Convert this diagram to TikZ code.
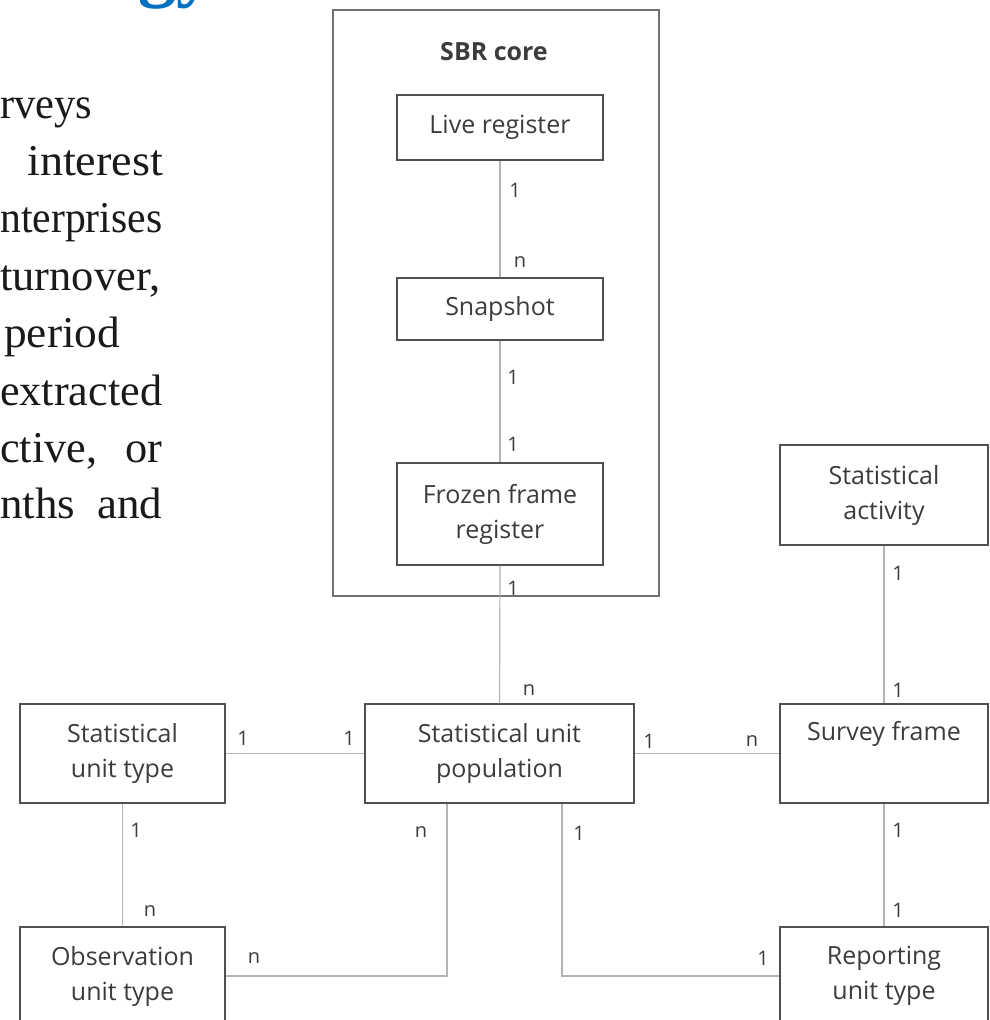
\documentclass[tikz,border=0pt]{standalone}
\usepackage{fontspec}
\setmainfont{Liberation Serif}
\newfontfamily\boxfont{Open Sans}
\definecolor{boxline}{HTML}{505050}
\definecolor{sbrline}{HTML}{707070}
\definecolor{connc}{HTML}{B4B4B4}
\definecolor{boxtext}{HTML}{3C3C3C}
\definecolor{titleblue}{HTML}{0070C0}
\definecolor{bodytext}{HTML}{1A1A1A}
\begin{document}
\begin{tikzpicture}[x=1pt,y=-1pt,
  box/.style={draw=boxline, line width=1.4pt, inner sep=0pt, align=center,
    font=\boxfont\fontsize{25}{35}\selectfont, text=boxtext},
  conn/.style={draw=connc, line width=1.2pt},
  lbl/.style={font=\boxfont\fontsize{20}{20}\selectfont, text=boxtext, inner sep=0pt},
  txt/.style={font=\fontsize{44}{44}\selectfont, text=bodytext, inner sep=0pt}]
\useasboundingbox (0,0) rectangle (989,1020);
\fill[white] (0,0) rectangle (989,1020);
\clip (0,0) rectangle (989,1020);

% cut-off title and body text
\node[anchor=base west, font=\fontsize{76}{76}\selectfont\bfseries, text=titleblue, inner sep=0pt] (ttl) at (138,-8) {gy};
\node[txt, anchor=base west] (l1) at (0,118) {\resizebox{92pt}{\height}{rveys}};
\node[txt, anchor=base west] (l2) at (27,175) {\resizebox{136pt}{\height}{interest}};
\node[txt, anchor=base west] (l3) at (0,232) {\resizebox{162pt}{\height}{nterprises}};
\node[txt, anchor=base west] (l4) at (0,290) {\resizebox{160pt}{\height}{turnover,}};
\node[txt, anchor=base west] (l5) at (4,347) {\resizebox{116pt}{\height}{period}};
\node[txt, anchor=base west] (l6) at (0,405) {\resizebox{162pt}{\height}{extracted}};
\node[txt, anchor=base west] (l7a) at (0,462) {\resizebox{97pt}{\height}{ctive,}};
\node[txt, anchor=base west] (l7b) at (125,462) {\resizebox{37pt}{\height}{or}};
\node[txt, anchor=base west] (l8a) at (0,518) {\resizebox{75pt}{\height}{nths}};
\node[txt, anchor=base west] (l8b) at (97,518) {\resizebox{65pt}{\height}{and}};

% SBR core container
\node[draw=sbrline, line width=1.5pt, minimum width=326pt, minimum height=586pt, inner sep=0pt] (core) at (496,303) {};
\node[font=\boxfont\bfseries\fontsize{25}{30}\selectfont, text=boxtext, inner sep=0pt] (coretitle) at (494,52) {SBR core};

% boxes
\node[box, minimum width=206pt, minimum height=65pt] (live) at (500,127.5) {Live register};
\node[box, minimum width=206pt, minimum height=62pt] (snap) at (500,309) {Snapshot};
\node[box, minimum width=206pt, minimum height=102pt] (frozen) at (500,514) {Frozen frame\\register};
\node[box, minimum width=269pt, minimum height=99pt] (sup) at (499.5,753.5) {Statistical unit\\population};
\node[box, minimum width=205pt, minimum height=99pt] (sut) at (122.5,753.5) {Statistical\\unit type};
\node[box, minimum width=205pt, minimum height=98pt] (out) at (122.5,976) {Observation\\unit type};
\node[box, minimum width=208pt, minimum height=100pt] (sa) at (884,495) {Statistical\\activity};
\node[box, minimum width=208pt, minimum height=99pt] (sf) at (884,753.5) {Survey frame\\\strut};
\node[box, minimum width=208pt, minimum height=98pt] (rut) at (884,976) {Reporting\\unit type};

% connectors
\draw[conn] (live.south) -- (snap.north);
\draw[conn] (snap.south) -- (frozen.north);
\draw[conn] (frozen.south) -- (sup.north);
\draw[conn] (sut.east) -- (sup.west);
\draw[conn] (sup.east) -- (sf.west);
\draw[conn] (sa.south) -- (sf.north);
\draw[conn] (sf.south) -- (rut.north);
\draw[conn] (sut.south) -- (out.north);
\draw[conn] (out.east) -| ([xshift=-52.5pt]sup.south);
\draw[conn] ([xshift=62.5pt]sup.south) |- (rut.west);

% multiplicity labels
\node[lbl] (m1) at (515,190) {1};
\node[lbl] (m2) at (520,262) {n};
\node[lbl] (m3) at (513,377) {1};
\node[lbl] (m4) at (513,444) {1};
\node[lbl] (m5) at (513,588) {1};
\node[lbl] (m6) at (529,690) {n};
\node[lbl] (m7) at (243,738) {1};
\node[lbl] (m8) at (349,738) {1};
\node[lbl] (m9) at (649,741) {1};
\node[lbl] (m10) at (752,741) {n};
\node[lbl] (m11) at (898,573) {1};
\node[lbl] (m12) at (898,690) {1};
\node[lbl] (m13) at (898,830) {1};
\node[lbl] (m14) at (898,910) {1};
\node[lbl] (m15) at (136,830) {1};
\node[lbl] (m16) at (150,911) {n};
\node[lbl] (m17) at (254,958) {n};
\node[lbl] (m18) at (421,832) {n};
\node[lbl] (m19) at (579,833) {1};
\node[lbl] (m20) at (763,958) {1};
\end{tikzpicture}
\end{document}
